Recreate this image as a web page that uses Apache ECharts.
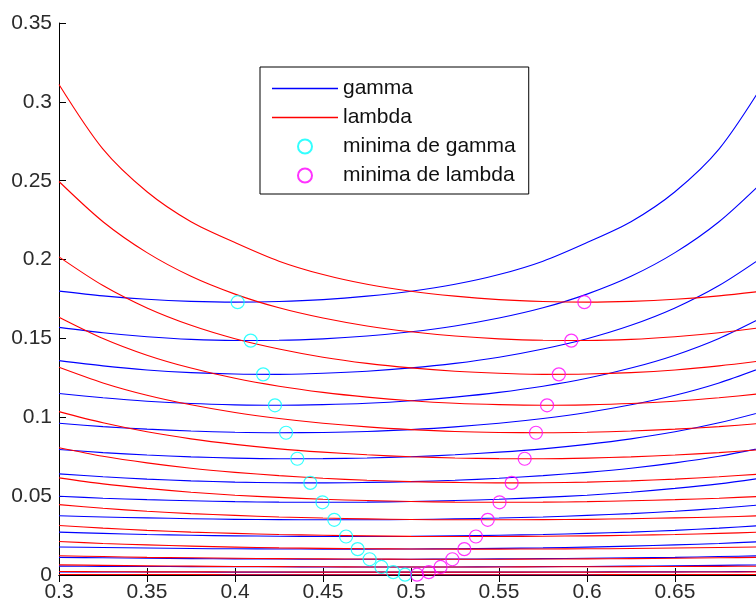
<!DOCTYPE html>
<html>
<head>
<meta charset="utf-8">
<script src="https://cdn.jsdelivr.net/npm/echarts@6/dist/echarts.min.js"></script>
<style>
  html, body { margin: 0; padding: 0; background: #fff; }
  #chart { width: 756px; height: 604px; }
</style>
</head>
<body>
<div id="chart"></div>
<script>
// Sample abscissae shared by every curve
const xGrid = [0.3, 0.325, 0.35, 0.375, 0.4, 0.425, 0.45, 0.475, 0.5,
               0.525, 0.55, 0.575, 0.6, 0.625, 0.65, 0.675, 0.7];

// gamma curves, one row per parameter value (values at xGrid)
const gammaCurves = [
  [0.1800, 0.1770, 0.1748, 0.1735, 0.1730, 0.1734, 0.1746, 0.1768, 0.1799, 0.1843, 0.1905, 0.1990, 0.2108, 0.2240, 0.2430, 0.2700, 0.3110],
  [0.1570, 0.1536, 0.1511, 0.1494, 0.1487, 0.1488, 0.1497, 0.1515, 0.1542, 0.1579, 0.1629, 0.1694, 0.1781, 0.1894, 0.2044, 0.2240, 0.2495],
  [0.1359, 0.1326, 0.1300, 0.1283, 0.1274, 0.1272, 0.1279, 0.1292, 0.1313, 0.1342, 0.1381, 0.1433, 0.1498, 0.1583, 0.1693, 0.1835, 0.2017],
  [0.1151, 0.1124, 0.1102, 0.1087, 0.1079, 0.1076, 0.1080, 0.1089, 0.1105, 0.1128, 0.1158, 0.1197, 0.1247, 0.1312, 0.1394, 0.1500, 0.1635],
  [0.0962, 0.0941, 0.0925, 0.0913, 0.0905, 0.0902, 0.0904, 0.0910, 0.0922, 0.0939, 0.0962, 0.0992, 0.1030, 0.1079, 0.1140, 0.1218, 0.1317],
  [0.0796, 0.0776, 0.0761, 0.0749, 0.0741, 0.0737, 0.0738, 0.0742, 0.0750, 0.0762, 0.0779, 0.0800, 0.0828, 0.0863, 0.0908, 0.0965, 0.1036],
  [0.0641, 0.0623, 0.0608, 0.0597, 0.0589, 0.0585, 0.0584, 0.0587, 0.0592, 0.0601, 0.0613, 0.0630, 0.0651, 0.0677, 0.0711, 0.0753, 0.0807],
  [0.0499, 0.0487, 0.0478, 0.0471, 0.0465, 0.0462, 0.0461, 0.0462, 0.0466, 0.0472, 0.0480, 0.0492, 0.0506, 0.0525, 0.0549, 0.0578, 0.0616],
  [0.0376, 0.0368, 0.0362, 0.0357, 0.0353, 0.0351, 0.0350, 0.0350, 0.0352, 0.0356, 0.0361, 0.0368, 0.0378, 0.0389, 0.0404, 0.0423, 0.0446],
  [0.0272, 0.0264, 0.0257, 0.0252, 0.0248, 0.0246, 0.0244, 0.0244, 0.0245, 0.0248, 0.0252, 0.0257, 0.0264, 0.0272, 0.0283, 0.0297, 0.0314],
  [0.0178, 0.0174, 0.0171, 0.0168, 0.0166, 0.0165, 0.0164, 0.0164, 0.0165, 0.0166, 0.0169, 0.0172, 0.0177, 0.0183, 0.0191, 0.0200, 0.0212],
  [0.0112, 0.0109, 0.0106, 0.0104, 0.0102, 0.0101, 0.0100, 0.0100, 0.0100, 0.0101, 0.0102, 0.0104, 0.0106, 0.0109, 0.0112, 0.0117, 0.0122],
  [0.0056, 0.0055, 0.0054, 0.0053, 0.0052, 0.0052, 0.0051, 0.0051, 0.0051, 0.0051, 0.0052, 0.0053, 0.0054, 0.0056, 0.0058, 0.0061, 0.0064],
  [0.0020, 0.0019, 0.0019, 0.0019, 0.0018, 0.0018, 0.0018, 0.0018, 0.0018, 0.0018, 0.0018, 0.0019, 0.0019, 0.0020, 0.0020, 0.0021, 0.0022],
  [0.0003, 0.0003, 0.0003, 0.0003, 0.0002, 0.0002, 0.0002, 0.0002, 0.0002, 0.0002, 0.0002, 0.0002, 0.0002, 0.0003, 0.0003, 0.0003, 0.0003]
];

// lambda curves, same parameter values (values at xGrid)
const lambdaCurves = [
  [0.3110, 0.2700, 0.2430, 0.2240, 0.2108, 0.1990, 0.1905, 0.1843, 0.1799, 0.1768, 0.1746, 0.1734, 0.1730, 0.1735, 0.1748, 0.1770, 0.1800],
  [0.2495, 0.2240, 0.2044, 0.1894, 0.1781, 0.1694, 0.1629, 0.1579, 0.1542, 0.1515, 0.1497, 0.1488, 0.1487, 0.1494, 0.1511, 0.1536, 0.1570],
  [0.2017, 0.1835, 0.1693, 0.1583, 0.1498, 0.1433, 0.1381, 0.1342, 0.1313, 0.1292, 0.1279, 0.1272, 0.1274, 0.1283, 0.1300, 0.1326, 0.1359],
  [0.1635, 0.1500, 0.1394, 0.1312, 0.1247, 0.1197, 0.1158, 0.1128, 0.1105, 0.1089, 0.1080, 0.1076, 0.1079, 0.1087, 0.1102, 0.1124, 0.1151],
  [0.1317, 0.1218, 0.1140, 0.1079, 0.1030, 0.0992, 0.0962, 0.0939, 0.0922, 0.0910, 0.0904, 0.0902, 0.0905, 0.0913, 0.0925, 0.0941, 0.0962],
  [0.1036, 0.0965, 0.0908, 0.0863, 0.0828, 0.0800, 0.0779, 0.0762, 0.0750, 0.0742, 0.0738, 0.0737, 0.0741, 0.0749, 0.0761, 0.0776, 0.0796],
  [0.0807, 0.0753, 0.0711, 0.0677, 0.0651, 0.0630, 0.0613, 0.0601, 0.0592, 0.0587, 0.0584, 0.0585, 0.0589, 0.0597, 0.0608, 0.0623, 0.0641],
  [0.0616, 0.0578, 0.0549, 0.0525, 0.0506, 0.0492, 0.0480, 0.0472, 0.0466, 0.0462, 0.0461, 0.0462, 0.0465, 0.0471, 0.0478, 0.0487, 0.0499],
  [0.0446, 0.0423, 0.0404, 0.0389, 0.0378, 0.0368, 0.0361, 0.0356, 0.0352, 0.0350, 0.0350, 0.0351, 0.0353, 0.0357, 0.0362, 0.0368, 0.0376],
  [0.0314, 0.0297, 0.0283, 0.0272, 0.0264, 0.0257, 0.0252, 0.0248, 0.0245, 0.0244, 0.0244, 0.0246, 0.0248, 0.0252, 0.0257, 0.0264, 0.0272],
  [0.0212, 0.0200, 0.0191, 0.0183, 0.0177, 0.0172, 0.0169, 0.0166, 0.0165, 0.0164, 0.0164, 0.0165, 0.0166, 0.0168, 0.0171, 0.0174, 0.0178],
  [0.0122, 0.0117, 0.0112, 0.0109, 0.0106, 0.0104, 0.0102, 0.0101, 0.0100, 0.0100, 0.0100, 0.0101, 0.0102, 0.0104, 0.0106, 0.0109, 0.0112],
  [0.0064, 0.0061, 0.0058, 0.0056, 0.0054, 0.0053, 0.0052, 0.0051, 0.0051, 0.0051, 0.0051, 0.0052, 0.0052, 0.0053, 0.0054, 0.0055, 0.0056],
  [0.0022, 0.0021, 0.0020, 0.0020, 0.0019, 0.0019, 0.0018, 0.0018, 0.0018, 0.0018, 0.0018, 0.0018, 0.0018, 0.0019, 0.0019, 0.0019, 0.0020],
  [0.0003, 0.0003, 0.0003, 0.0003, 0.0002, 0.0002, 0.0002, 0.0002, 0.0002, 0.0002, 0.0002, 0.0002, 0.0002, 0.0003, 0.0003, 0.0003, 0.0003]
];

// Location of each curve's minimum
const gammaMinX = [0.4015, 0.4089, 0.4160, 0.4227, 0.4290, 0.4354, 0.4428, 0.4497,
                   0.4564, 0.4631, 0.4697, 0.4765, 0.4832, 0.4899, 0.4966];
const gammaMinY = [0.1730, 0.1486, 0.1272, 0.1076, 0.0902, 0.0737, 0.0584, 0.0461,
                   0.0350, 0.0244, 0.0164, 0.0100, 0.0051, 0.0018, 0.0002];
const lambdaMinX = [0.5985, 0.5911, 0.5840, 0.5773, 0.5710, 0.5646, 0.5572, 0.5503,
                    0.5436, 0.5369, 0.5303, 0.5235, 0.5168, 0.5101, 0.5034];
const lambdaMinY = [0.1730, 0.1486, 0.1272, 0.1076, 0.0902, 0.0737, 0.0584, 0.0461,
                    0.0350, 0.0244, 0.0164, 0.0100, 0.0051, 0.0018, 0.0002];

const xTicks = { min: 0.3, max: 0.7, step: 0.05 };
const yTicks = { min: 0, max: 0.35, step: 0.05 };

const FONT = 'Liberation Sans, Arial, sans-serif';
const LINE_ICON = 'path://M0,0H66V1.3H0Z';

function curveSeries(name, color, rows) {
  return rows.map(row => ({
    name: name,
    type: 'line',
    data: xGrid.map((x, i) => [x, row[i]]),
    symbol: 'none',
    smooth: 0.3,
    lineStyle: { color: color, width: 1.1 },
    itemStyle: { color: color },
    silent: true,
    clip: true
  }));
}

function minimaSeries(name, color, xs, ys) {
  return {
    name: name,
    type: 'scatter',
    data: xs.map((x, i) => [x, ys[i]]),
    symbol: 'circle',
    symbolSize: 13,
    itemStyle: { color: 'rgba(0,0,0,0)', borderColor: color, borderWidth: 1.2 },
    silent: true,
    clip: false,
    z: 5
  };
}

function axisCommon(range) {
  return {
    type: 'value',
    min: range.min,
    max: range.max,
    interval: range.step,
    axisLine: { show: true, lineStyle: { color: '#000', width: 1 } },
    axisTick: { show: true, inside: true, length: 7, lineStyle: { color: '#000', width: 1 } },
    splitLine: { show: false }
  };
}

const chart = echarts.init(document.getElementById('chart'), null, { renderer: 'canvas' });

const option = {
  animation: false,
  backgroundColor: '#fff',
  grid: { left: 59, right: -7, top: 23, bottom: 29, containLabel: false, outerBoundsMode: 'none' },
  xAxis: [
    Object.assign(axisCommon(xTicks), {
      position: 'bottom',
      axisLabel: { fontSize: 21, color: '#2b2b2b', fontFamily: FONT, margin: 7, showMaxLabel: false }
    }),
    Object.assign(axisCommon(xTicks), { position: 'top', axisLabel: { show: false } })
  ],
  yAxis: [
    Object.assign(axisCommon(yTicks), {
      position: 'left',
      axisLabel: { fontSize: 21, color: '#2b2b2b', fontFamily: FONT, margin: 7 }
    }),
    Object.assign(axisCommon(yTicks), { position: 'right', axisLabel: { show: false } })
  ],
  legend: {
    orient: 'vertical',
    left: 260,
    top: 67,
    padding: [11, 13, 8, 12],
    itemGap: 8,
    itemWidth: 66,
    itemHeight: 14,
    borderColor: '#000',
    borderWidth: 1,
    backgroundColor: '#fff',
    textStyle: { fontSize: 21, color: '#111', fontFamily: FONT, lineHeight: 21 },
    data: [
      { name: 'gamma', icon: LINE_ICON },
      { name: 'lambda', icon: LINE_ICON },
      { name: 'minima de gamma' },
      { name: 'minima de lambda' }
    ],
    selectedMode: false
  },
  series: [
    ...curveSeries('gamma', '#0000ff', gammaCurves),
    ...curveSeries('lambda', '#ff0000', lambdaCurves),
    minimaSeries('minima de gamma', '#00ffff', gammaMinX, gammaMinY),
    minimaSeries('minima de lambda', '#ff00ff', lambdaMinX, lambdaMinY)
  ]
};

chart.setOption(option);
</script>
</body>
</html>
